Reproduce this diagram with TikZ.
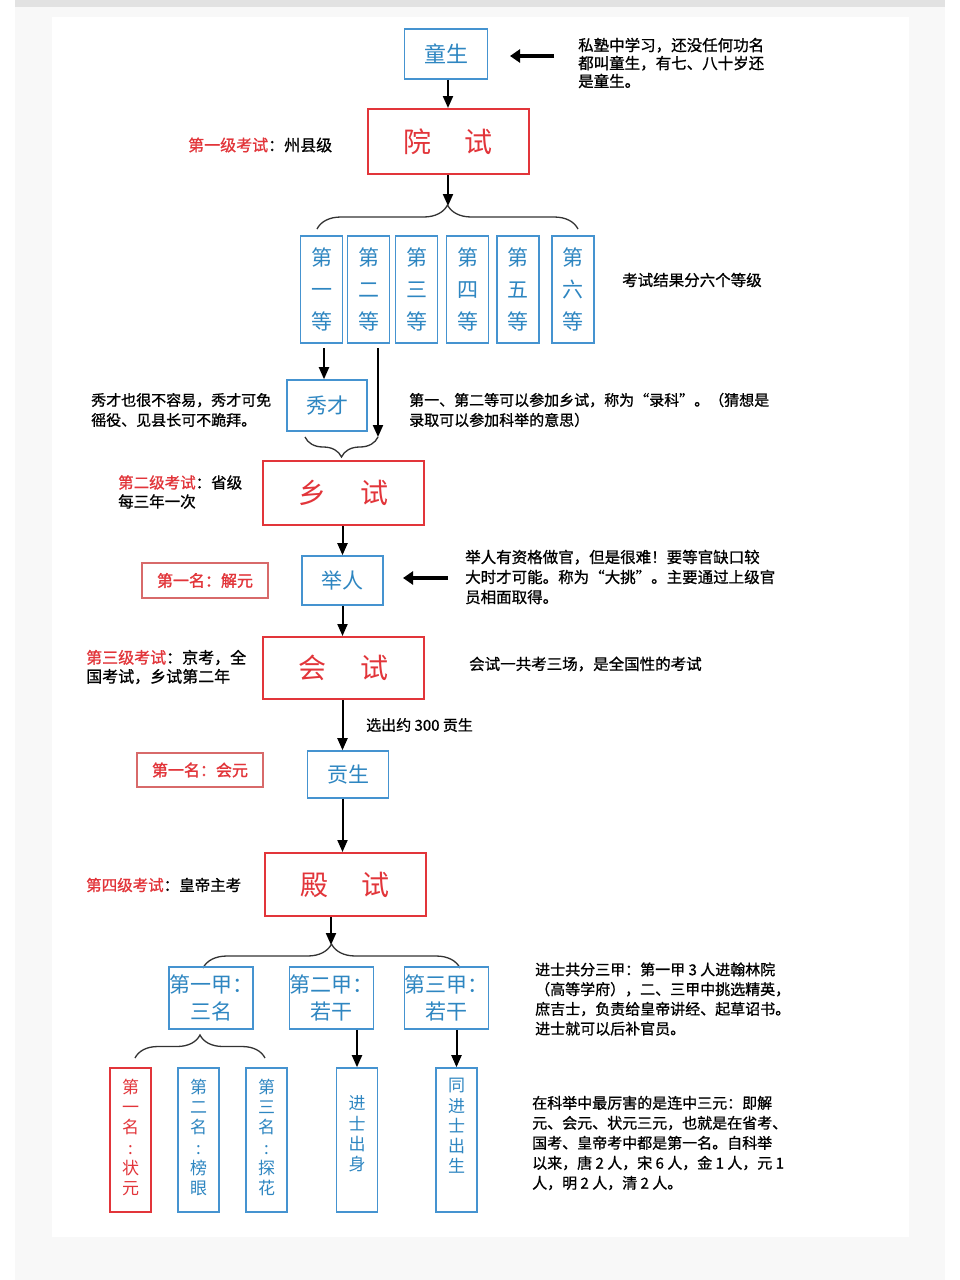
\documentclass[tikz,border=0pt]{standalone}
\usepackage{fontspec}
\setmainfont{Noto Sans CJK SC}
\newfontfamily\cjkb[FakeBold=1.6]{Noto Sans CJK SC}
\newfontfamily\cjkn[FakeBold=0.9]{Noto Sans CJK SC}
\usetikzlibrary{arrows.meta,decorations.pathreplacing}
\definecolor{bl}{HTML}{4593D0}
\definecolor{blt}{HTML}{2E86C1}
\definecolor{rd}{HTML}{E2353A}
\definecolor{rdl}{HTML}{D86A6A}
\definecolor{card}{HTML}{F8F8F8}
\definecolor{strip}{HTML}{E2E2E2}
\definecolor{brc}{HTML}{333333}
\begin{document}
\begin{tikzpicture}[x=1pt,y=-1pt,
  bbox/.style={draw=bl, line width=1.6pt, text=blt, inner sep=0pt, align=center},
  rbox/.style={draw=rd, line width=2pt, text=rd, inner sep=0pt, align=center},
  lbox/.style={draw=rdl, line width=1.2pt, text=rd, inner sep=0pt, font=\cjkb\fontsize{16}{16}\selectfont},
  note/.style={inner sep=0pt, align=left, anchor=west, text=black},
  arr/.style={-{Triangle[width=10pt,length=12pt]}, line width=2pt},
  tarr/.style={-{Triangle[width=13pt,length=10pt]}, line width=3.5pt},
  brace/.style={decorate, decoration={brace, amplitude=#1}, line width=1.3pt, draw=brc},
  vtxt/.style={inner sep=0pt, align=center, font=\fontsize{17}{20.2}\selectfont},
  six/.style={bbox, minimum width=42pt, minimum height=107pt, font=\fontsize{21}{32}\selectfont},
  jia/.style={bbox, minimum width=82pt, minimum height=62pt, font=\fontsize{21}{27}\selectfont},
  vbox/.style={draw=#1, line width=1.6pt, minimum width=41pt, minimum height=144pt, inner sep=0pt},
  big/.style={rbox, minimum width=161pt, font=\fontsize{28}{28}\selectfont},
]
% background
\fill[white] (0,0) rectangle (960,1280);
\fill[card] (15,7) rectangle (945,1280);
\fill[strip] (15,0) rectangle (945,7);
\fill[white] (52,17) rectangle (909,1237);
\useasboundingbox (0,0) rectangle (960,1280);

% top
\node[bbox, minimum width=83pt, minimum height=50pt, font=\fontsize{22}{22}\selectfont] (tong) at (446,54) {童生};
\node[note, font=\cjkn\fontsize{15.5}{18}\selectfont] (n1) at (578,63) {私塾中学习，还没任何功名\\都叫童生，有七、八十岁还\\是童生。};
\coordinate (n1tail) at (554,56);
\coordinate (n1tip) at (510,56);
\draw[tarr] (n1tail) -- (n1tip);

\node[big, minimum height=65pt] (yuan) at (448,141.5) {院\hspace{34pt}试};
\draw[arr] (tong.south -| yuan.north) -- (yuan.north);
\node[note, font=\cjkn\fontsize{16}{19}\selectfont] (l1) at (188,145) {\textcolor{rd}{第一级考试}：州县级};

\coordinate (b1tip) at (448,206);
\draw[arr] (yuan.south) -- (b1tip);
\coordinate (b1l) at (317,229);
\coordinate (b1r) at (578,229);
\draw[brace=24pt] (b1l) -- (b1r);

\node[six] (d1) at (321.5,289.5) {第\\一\\等};
\node[six] (d2) at (368.5,289.5) {第\\二\\等};
\node[six] (d3) at (416.5,289.5) {第\\三\\等};
\node[six] (d4) at (467.5,289.5) {第\\四\\等};
\node[six] (d5) at (518,289.5) {第\\五\\等};
\node[six] (d6) at (573,289.5) {第\\六\\等};
\node[note, font=\cjkn\fontsize{15.5}{18}\selectfont] (n2) at (622,280) {考试结果分六个等级};

\node[bbox, minimum width=80pt, minimum height=51pt, font=\fontsize{21}{21}\selectfont] (xiu) at (327,405.5) {秀才};
\coordinate (a1s) at (324,348);
\draw[arr] (a1s) -- (a1s |- xiu.north);
\coordinate (a2s) at (378,348);
\coordinate (b2r) at (378,437);
\coordinate (b2l) at (305,437);
\draw[arr] (a2s) -- (b2r);
\draw[brace=20pt] (b2r) -- (b2l);
\node[note, font=\cjkn\fontsize{15}{20}\selectfont] (n3) at (91,410) {秀才也很不容易，秀才可免\\徭役、见县长可不跪拜。};
\node[note, font=\cjkn\fontsize{15}{20}\selectfont] (n4) at (409,410) {第一、第二等可以参加乡试，称为“录科”。（猜想是\\录取可以参加科举的意思）};

% second level
\node[big, minimum height=64pt] (xiang) at (343.5,493) {乡\hspace{34pt}试};
\node[note, font=\cjkn\fontsize{15.5}{19}\selectfont] (l2) at (118,492) {\textcolor{rd}{第二级考试}：省级\\每三年一次};

\node[bbox, minimum width=81pt, minimum height=49pt, font=\fontsize{21}{21}\selectfont] (ju) at (342.5,580.5) {举人};
\draw[arr] (xiang.south -| ju.north) -- (ju.north);
\node[lbox, minimum width=126pt, minimum height=35pt] (jieyuan) at (205,580.5) {第一名：解元};
\coordinate (n5tail) at (448,578);
\coordinate (n5tip) at (403,578);
\draw[tarr] (n5tail) -- (n5tip);
\node[note, font=\cjkn\fontsize{15.5}{20}\selectfont] (n5) at (465,577) {举人有资格做官，但是很难！要等官缺口较\\大时才可能。称为“大挑”。主要通过上级官\\员相面取得。};

% third level
\node[big, minimum height=62pt] (hui) at (343.5,668) {会\hspace{34pt}试};
\draw[arr] (ju.south) -- (ju.south |- hui.north);
\node[note, font=\cjkn\fontsize{16}{19}\selectfont] (l3) at (86,667) {\textcolor{rd}{第三级考试}：京考，全\\国考试，乡试第二年};
\node[note, font=\cjkn\fontsize{15.5}{18}\selectfont] (n6) at (469,664) {会试一共考三场，是全国性的考试};

\node[bbox, minimum width=81pt, minimum height=47pt, font=\fontsize{21}{21}\selectfont] (gong) at (348,774.5) {贡生};
\draw[arr] (hui.south -| ju.south) -- (ju.south |- gong.north);
\node[note, font=\cjkn\fontsize{15}{18}\selectfont] (n7) at (366,725) {选出约 300 贡生};
\node[lbox, minimum width=126pt, minimum height=34pt] (huiyuan) at (200,770) {第一名：会元};

% fourth level
\node[big, minimum height=63pt] (dian) at (345,884.5) {殿\hspace{34pt}试};
\draw[arr] (gong.south -| ju.south) -- (ju.south |- dian.north);
\node[note, font=\cjkn\fontsize{15.5}{18}\selectfont] (l4) at (86,885) {\textcolor{rd}{第四级考试}：皇帝主考};

\coordinate (b3tip) at (331,945);
\draw[arr] (dian.south -| b3tip) -- (b3tip);
\coordinate (b3l) at (203,968);
\coordinate (b3r) at (460,968);
\draw[brace=24pt] (b3l) -- (b3r);

\node[jia] (j1) at (211,998) {第一甲：\\三名};
\node[jia] (j2) at (331.5,998) {第二甲：\\若干};
\node[jia] (j3) at (446.5,998) {第三甲：\\若干};
\node[note, font=\cjkn\fontsize{15}{19.7}\selectfont] (n8) at (535,999) {进士共分三甲：第一甲 3 人进翰林院\\（高等学府），二、三甲中挑选精英，\\庶吉士，负责给皇帝讲经、起草诏书。\\进士就可以后补官员。};

\coordinate (b4l) at (135,1058);
\coordinate (b4r) at (265,1058);
\draw[brace=23pt] (b4l) -- (b4r);

\node[vbox=rd] (zy) at (130.5,1140) {};
\node[vtxt, text=rd] (zyt) at (130.5,1137.5) {第\\一\\名\\:\\状\\元};
\node[vbox=bl] (by) at (198.5,1140) {};
\node[vtxt, text=blt] (byt) at (198.5,1137.5) {第\\二\\名\\:\\榜\\眼};
\node[vbox=bl] (th) at (266.5,1140) {};
\node[vtxt, text=blt] (tht) at (266.5,1137.5) {第\\三\\名\\:\\探\\花};
\node[vbox=bl] (js) at (357,1140) {};
\node[vtxt, text=blt] (jst) at (357,1134) {进\\士\\出\\身};
\node[vbox=bl] (tjs) at (456.5,1140) {};
\node[vtxt, text=blt] (tjst) at (456.5,1126) {同\\进\\士\\出\\生};

\draw[arr] (j2.south -| js.north) -- (js.north);
\draw[arr] (j3.south -| tjs.north) -- (tjs.north);

\node[note, font=\cjkn\fontsize{15}{20}\selectfont] (n9) at (532,1143) {在科举中最厉害的是连中三元：即解\\元、会元、状元三元，也就是在省考、\\国考、皇帝考中都是第一名。自科举\\以来，唐 2 人，宋 6 人，金 1 人，元 1\\人，明 2 人，清 2 人。};
\end{tikzpicture}
\end{document}
